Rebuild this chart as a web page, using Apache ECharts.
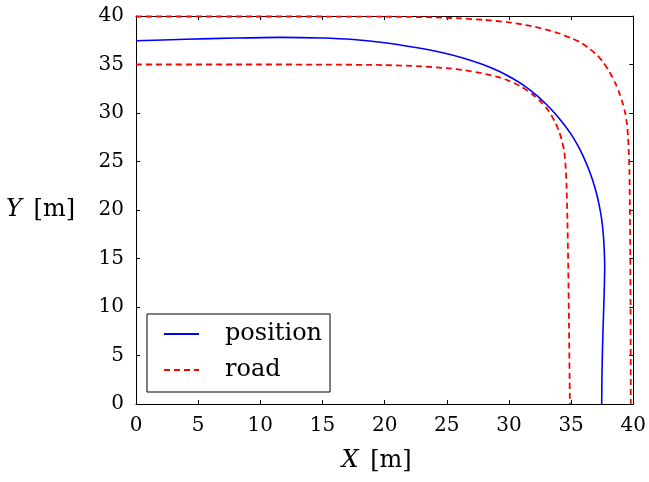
<!DOCTYPE html>
<html>
<head>
<meta charset="utf-8">
<script src="https://cdn.jsdelivr.net/npm/echarts@6/dist/echarts.min.js"></script>
<style>
html,body{margin:0;padding:0;background:#fff;}
#chart{width:649px;height:482px;}
</style>
</head>
<body>
<div id="chart"></div>
<script>
// Axis ranges / ticks
const axisMin = 0;
const axisMax = 40;
const tickStep = 5;

// Series names
const seriesNames = ['position', 'road'];

// Vehicle position [x, y] in metres
const positionXY = [
  [0, 37.45], [4, 37.6], [8, 37.73], [11.6, 37.8], [15, 37.73], [17.5, 37.57],
  [20, 37.25], [22.5, 36.75], [24.5, 36.27], [26.3, 35.68], [27.9, 35.0],
  [29.2, 34.3], [30.3, 33.55], [31.3, 32.75], [32.2, 31.85], [33.0, 30.9],
  [33.7, 29.95], [34.35, 28.95], [34.95, 27.9], [35.5, 26.75], [35.95, 25.6],
  [36.35, 24.4], [36.7, 23.2], [37.0, 21.9], [37.25, 20.55], [37.45, 19.1],
  [37.58, 17.6], [37.66, 16.0], [37.7, 14.3], [37.68, 12.5], [37.64, 10.6],
  [37.58, 8.2], [37.52, 5.5], [37.48, 2.8], [37.46, 0]
];

// Outer road edge [x, y]
const roadOuterXY = [
  [0, 39.95], [10, 39.95], [20, 39.93], [24, 39.86], [26, 39.76], [28, 39.6],
  [30, 39.35], [31, 39.15], [32, 38.9], [33, 38.6], [34, 38.22], [35, 37.72],
  [35.8, 37.25], [36.5, 36.6], [37.1, 35.95], [37.6, 35.2], [38.1, 34.2],
  [38.55, 33.1], [38.9, 32.0], [39.15, 31.0], [39.35, 30.0], [39.5, 28.8],
  [39.58, 27.5], [39.64, 26.0], [39.69, 24], [39.72, 21], [39.75, 17],
  [39.78, 10], [39.8, 0]
];

// Inner road edge [x, y]
const roadInnerXY = [
  [0, 35], [10, 35], [15, 34.99], [20, 34.94], [23, 34.81], [25, 34.62],
  [26.5, 34.4], [27.8, 34.1], [29, 33.75], [30, 33.32], [31, 32.7],
  [31.9, 31.9], [32.6, 31.1], [33.2, 30.2], [33.65, 29.2], [34.0, 28.2],
  [34.25, 27.2], [34.45, 26.0], [34.55, 24.6], [34.63, 22.5], [34.7, 19],
  [34.77, 14], [34.83, 8], [34.9, 0]
];

const FONT = '"DejaVu Serif", "Liberation Serif", serif';

const chart = echarts.init(document.getElementById('chart'), null, {renderer: 'canvas'});

function makeAxis(pos, showLabel, extra) {
  return Object.assign({
    type: 'value',
    position: pos,
    min: axisMin,
    max: axisMax,
    interval: tickStep,
    splitLine: {show: false},
    axisLine: {show: true, onZero: false, lineStyle: {color: '#000', width: 1}},
    axisTick: {show: true, inside: true, length: 4, lineStyle: {color: '#000', width: 1}},
    axisLabel: {show: showLabel, color: '#000', fontFamily: FONT, fontSize: 20, margin: 12},
  }, extra || {});
}

const option = {
  animation: false,
  backgroundColor: '#fff',
  textStyle: {fontFamily: FONT},
  grid: {left: 136, right: 15, top: 16, bottom: 78, containLabel: false},
  xAxis: [
    makeAxis('bottom', true, {
      name: '{i|X} [m]',
      nameLocation: 'middle',
      nameGap: 45,
      nameTextStyle: {
        color: '#000', fontFamily: FONT, fontSize: 24, padding: [0, 16, 0, 0],
        rich: {i: {fontStyle: 'italic', fontFamily: FONT, fontSize: 24, color: '#000', padding: [0, 4, 0, 0]}}
      }
    }),
    makeAxis('top', false)
  ],
  yAxis: [
    makeAxis('left', true, {
      name: '{i|Y} [m]',
      nameLocation: 'middle',
      nameRotate: 0,
      nameGap: 61,
      nameTextStyle: {
        color: '#000', fontFamily: FONT, fontSize: 24,
        rich: {i: {fontStyle: 'italic', fontFamily: FONT, fontSize: 24, color: '#000', padding: [0, 4, 0, 0]}}
      }
    }),
    makeAxis('right', false)
  ],
  legend: {
    orient: 'vertical',
    left: 147,
    top: 314,
    padding: [8, 8, 10, 16],
    itemWidth: 35,
    itemHeight: 24,
    itemGap: 12,
    borderColor: '#000',
    borderWidth: 1,
    borderRadius: 0,
    backgroundColor: '#fff',
    data: seriesNames,
    itemStyle: {color: 'rgba(0,0,0,0)', borderWidth: 0, opacity: 0},
    textStyle: {color: '#000', fontFamily: FONT, fontSize: 24, padding: [0, 0, 0, 21]}
  },
  series: [
    {
      name: seriesNames[0],
      type: 'line',
      xAxisIndex: 0, yAxisIndex: 0,
      data: positionXY,
      showSymbol: false,
      symbol: 'none',
      smooth: 0.25,
      lineStyle: {color: '#0000ff', width: 1.6},
      itemStyle: {color: '#0000ff'},
      z: 3
    },
    {
      name: seriesNames[1],
      type: 'line',
      xAxisIndex: 0, yAxisIndex: 0,
      data: roadOuterXY,
      showSymbol: false,
      symbol: 'none',
      smooth: 0.25,
      clip: false,
      lineStyle: {color: '#ff0000', width: 1.8, type: [6, 4]},
      itemStyle: {color: '#ff0000'},
      z: 2
    },
    {
      name: seriesNames[1],
      type: 'line',
      xAxisIndex: 0, yAxisIndex: 0,
      data: roadInnerXY,
      showSymbol: false,
      symbol: 'none',
      smooth: 0.25,
      lineStyle: {color: '#ff0000', width: 1.8, type: [6, 4]},
      itemStyle: {color: '#ff0000'},
      z: 2
    }
  ]
};

chart.setOption(option);
</script>
</body>
</html>
